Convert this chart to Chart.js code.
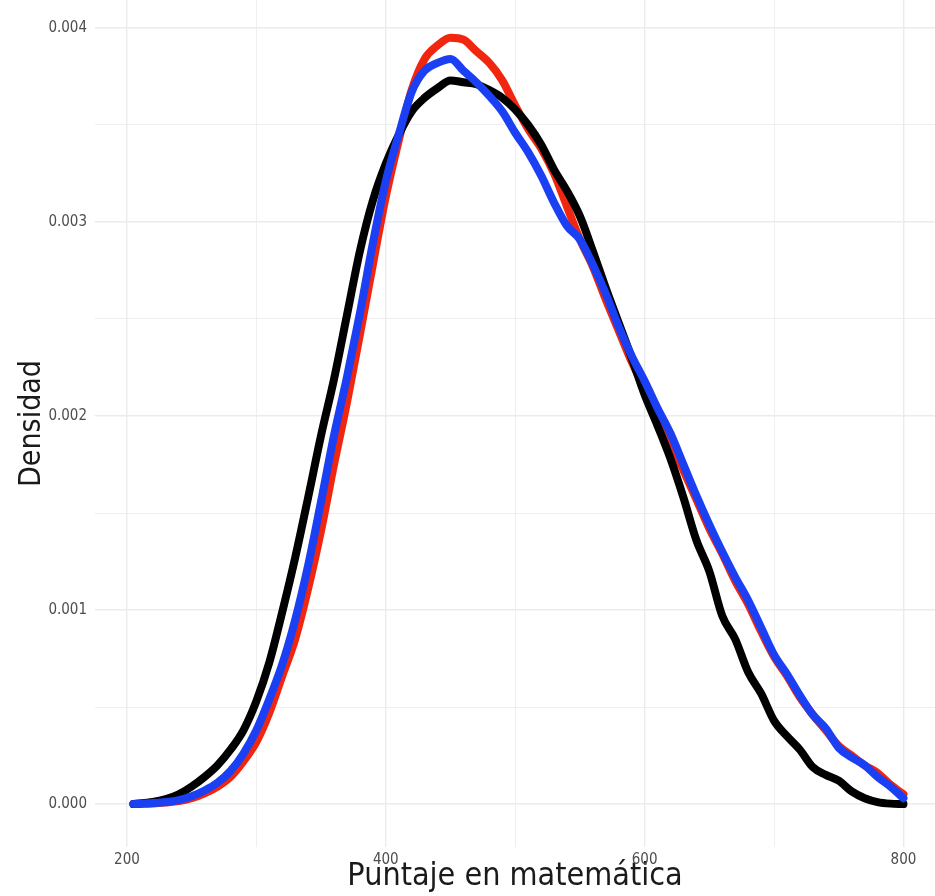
<!DOCTYPE html>
<html>
<head>
<meta charset="utf-8">
<script src="https://cdn.jsdelivr.net/npm/chart.js@4.4.1/dist/chart.umd.min.js"></script>
<style>
  html, body { margin: 0; padding: 0; background: #ffffff; }
  #wrap { width: 935px; height: 896px; position: relative; }
</style>
</head>
<body>
<div id="wrap"><canvas id="densidad"></canvas></div>
<script>
// puntajes (eje x) compartidos por las tres curvas
const puntajes = [205, 220, 230, 240, 250, 260, 270, 280, 290, 300,
  310, 320, 330, 340, 350, 360, 370, 380, 390, 400,
  410, 420, 430, 440, 450, 460, 470, 480, 490, 500,
  510, 520, 530, 540, 550, 560, 570, 580, 590, 600,
  610, 620, 630, 640, 650, 660, 670, 680, 690, 700,
  710, 720, 730, 740, 750, 760, 770, 780, 790, 800];

const densidadNegra = [0, 0.00001, 0.000025, 0.00005, 0.00009, 0.00014, 0.0002, 0.00028, 0.00038, 0.00053,
  0.00073, 0.00099, 0.00127, 0.00158, 0.0019, 0.00219, 0.00252, 0.00285, 0.00311, 0.0033,
  0.00345, 0.00357, 0.00364, 0.00369, 0.00373, 0.00372, 0.00371, 0.00368, 0.00364, 0.00358,
  0.0035, 0.0034, 0.00327, 0.00316, 0.00303, 0.00285, 0.00266, 0.00248, 0.0023, 0.00211,
  0.00195, 0.00178, 0.00158, 0.00136, 0.0012, 0.00097, 0.00085, 0.00068, 0.00057, 0.00043,
  0.00035, 0.00028, 0.00019, 0.00015, 0.00012, 0.000065, 0.00003, 0.00001, 0.000002, 0];

const densidadRoja = [0, 0.000003, 0.000008, 0.000015, 0.00003, 0.000055, 0.00009, 0.00014, 0.00022, 0.00032,
  0.00047, 0.00066, 0.00085, 0.00111, 0.00141, 0.00175, 0.00207, 0.00242, 0.00278, 0.00313,
  0.00342, 0.00368, 0.00384, 0.00391, 0.00395, 0.00394, 0.00388, 0.00382, 0.00373, 0.0036,
  0.00348, 0.00338, 0.00325, 0.00308, 0.00291, 0.00277, 0.0026, 0.00244, 0.00228, 0.00214,
  0.002, 0.00187, 0.00172, 0.00157, 0.00142, 0.00129, 0.00115, 0.00103, 0.00089, 0.00076,
  0.00066, 0.00055, 0.00046, 0.00038, 0.0003, 0.00025, 0.0002, 0.00016, 0.0001, 0.00005];

const densidadAzul = [0, 0.000005, 0.00001, 0.00002, 0.00004, 0.00007, 0.00011, 0.00017, 0.00026, 0.00038,
  0.00054, 0.00072, 0.00095, 0.00123, 0.00156, 0.0019, 0.0022, 0.00253, 0.00289, 0.00321,
  0.00345, 0.00367, 0.00378, 0.00382, 0.00384, 0.00378, 0.00372, 0.00365, 0.00357, 0.00346,
  0.00336, 0.00324, 0.0031, 0.00298, 0.00291, 0.00278, 0.00263, 0.00246, 0.00231, 0.00218,
  0.00204, 0.00191, 0.00175, 0.00159, 0.00144, 0.0013, 0.00117, 0.00105, 0.00091, 0.00077,
  0.00067, 0.00056, 0.00046, 0.00039, 0.00029, 0.00024, 0.0002, 0.00014, 0.00009, 0.00003];

const ticksX = [200, 300, 400, 500, 600, 700, 800];
const ticksY = [0, 0.0005, 0.001, 0.0015, 0.002, 0.0025, 0.003, 0.0035, 0.004];

const fuente = "'Liberation Sans Narrow', 'DejaVu Sans Condensed', 'Roboto', sans-serif";

function puntos(valores) {
  return puntajes.map((p, i) => ({ x: p, y: valores[i] }));
}

function esMayorX(v) { return v % 200 === 0; }
function esMayorY(v) { return Math.abs(Math.round(v * 1000) - v * 1000) < 1e-6; }

const ctx = document.getElementById('densidad');
new Chart(ctx, {
  type: 'line',
  data: {
    datasets: [
      { label: 'azul', data: puntos(densidadAzul), borderColor: '#1b3ff2', order: 0 },
      { label: 'negra', data: puntos(densidadNegra), borderColor: '#000000', order: 1 },
      { label: 'roja', data: puntos(densidadRoja), borderColor: '#f0260f', order: 2 }
    ]
  },
  options: {
    responsive: true,
    maintainAspectRatio: false,
    animation: false,
    layout: { padding: 0 },
    datasets: {
      line: {
        borderWidth: 8,
        pointRadius: 0,
        cubicInterpolationMode: 'monotone',
        borderCapStyle: 'round',
        borderJoinStyle: 'round',
        fill: false
      }
    },
    plugins: { legend: { display: false }, tooltip: { enabled: false } },
    scales: {
      x: {
        type: 'linear',
        min: 175.3,
        max: 824.4,
        afterBuildTicks: s => { s.ticks = ticksX.map(v => ({ value: v })); },
        afterFit: s => { s.height = 49; s.paddingLeft = 0; s.paddingRight = 0; },
        border: { display: false },
        grid: {
          drawTicks: false,
          color: '#ebebeb',
          lineWidth: c => esMayorX(c.tick.value) ? 1.4 : 0.8
        },
        ticks: {
          padding: 4,
          color: '#4d4d4d',
          maxRotation: 0,
          autoSkip: false,
          font: { family: fuente, size: 15 },
          callback: v => esMayorX(v) ? String(v) : ''
        },
        title: {
          display: true,
          text: 'Puntaje en matemática',
          color: '#1a1a1a',
          padding: { top: 0, bottom: 0 },
          font: { family: fuente, size: 32 }
        }
      },
      y: {
        type: 'linear',
        min: -0.0002216,
        max: 0.0041443,
        afterBuildTicks: s => { s.ticks = ticksY.map(v => ({ value: v })); },
        afterFit: s => { s.width = 95; s.paddingTop = 0; s.paddingBottom = 0; },
        border: { display: false },
        grid: {
          drawTicks: false,
          color: '#ebebeb',
          lineWidth: c => esMayorY(c.tick.value) ? 1.4 : 0.8
        },
        ticks: {
          padding: 8,
          color: '#4d4d4d',
          autoSkip: false,
          font: { family: fuente, size: 15 },
          callback: v => esMayorY(v) ? v.toFixed(3) : ''
        },
        title: {
          display: true,
          text: 'Densidad',
          color: '#1a1a1a',
          padding: { top: 14, bottom: 0 },
          font: { family: fuente, size: 30 }
        }
      }
    }
  }
});
</script>
</body>
</html>
